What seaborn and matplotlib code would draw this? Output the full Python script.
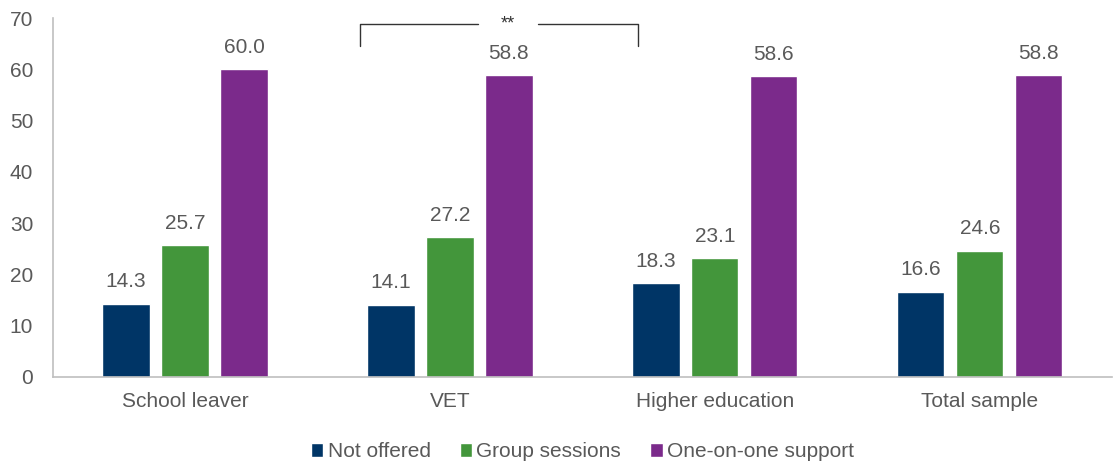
import pandas as pd
import numpy as np
import matplotlib
matplotlib.use("Agg")
import matplotlib.pyplot as plt
import seaborn as sns

categories = ["School leaver", "VET", "Higher education", "Total sample"]
series = ["Not offered", "Group sessions", "One-on-one support"]
not_offered = [14.3, 14.1, 18.3, 16.6]
group_sessions = [25.7, 27.2, 23.1, 24.6]
one_on_one = [60.0, 58.8, 58.6, 58.8]
colors = ["#003566", "#43963B", "#7B2A8B"]

df = pd.DataFrame({
    "category": categories * 3,
    "series": [series[0]] * 4 + [series[1]] * 4 + [series[2]] * 4,
    "value": not_offered + group_sessions + one_on_one,
})

sns.set_style("white")
plt.rcParams["font.family"] = ["Liberation Sans", "DejaVu Sans"]
text_col = "#595959"
fs = 15

fig = plt.figure(figsize=(11.19, 4.63), dpi=100)
ax = fig.add_axes([0.047, 0.186, 0.947, 0.775])

sns.barplot(data=df, x="category", y="value", hue="series", palette=colors,
            width=0.668, gap=0.2, ax=ax, saturation=1, legend=True)

for cont in ax.containers:
    ax.bar_label(cont, fmt="%.1f", padding=9, fontsize=fs, color=text_col)

ax.set_ylim(0, 70)
ax.set_xlim(-0.5, 3.5)
ax.set_yticks(range(0, 71, 10))
ax.set_xlabel("")
ax.set_ylabel("")
ax.tick_params(axis="both", length=0, labelsize=fs, labelcolor=text_col)
ax.tick_params(axis="x", pad=11)
ax.tick_params(axis="y", pad=14)
for s in ["top", "right"]:
    ax.spines[s].set_visible(False)
for s in ["left", "bottom"]:
    ax.spines[s].set_color("#BFBFBF")
    ax.spines[s].set_linewidth(1.2)

# significance bracket
xl, xr, xm = 0.662, 1.708, 1.217
ytop, ybot = 68.8, 64.5
ax.plot([xl, xl, 1.104], [ybot, ytop, ytop], color="#333333", lw=1, clip_on=False)
ax.plot([1.334, xr, xr], [ytop, ytop, ybot], color="#333333", lw=1, clip_on=False)
ax.text(xm, 67.2, "**", ha="center", va="bottom", fontsize=13, color="#333333")

h, l = ax.get_legend_handles_labels()
ax.legend(h, l, loc="upper center", bbox_to_anchor=(0.5, -0.13), ncol=3,
          frameon=False, fontsize=fs, handlelength=0.6, handleheight=0.6,
          handletextpad=0.2, columnspacing=1.4, labelcolor=text_col)

fig.savefig("out.png", dpi=100)
